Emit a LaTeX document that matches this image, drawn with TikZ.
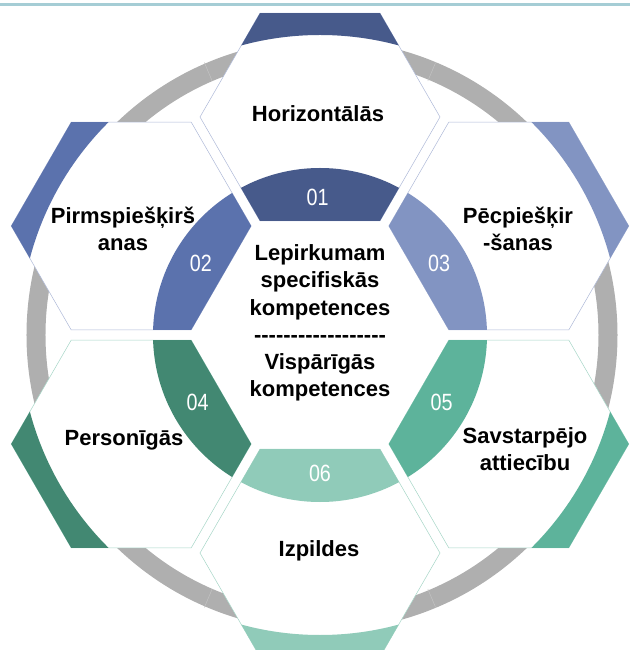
\documentclass[tikz,border=0pt]{standalone}
\usepackage{fontspec}
\setmainfont{Liberation Sans}
\newfontfamily\numfont[FakeStretch=0.84]{Liberation Sans}
\usepackage{xcolor}
\usetikzlibrary{shapes, positioning}

\definecolor{azulA}{HTML}{475A8B}
\definecolor{azulB}{HTML}{5B72AD}
\definecolor{azulC}{HTML}{8294C2}
\definecolor{verdeA}{HTML}{428872}
\definecolor{verdeB}{HTML}{5DB39B}
\definecolor{verdeC}{HTML}{90CBB9}
\definecolor{bordaAzul}{HTML}{AEB9D8}
\definecolor{bordaVerde}{HTML}{A6D6C7}
\definecolor{anel}{HTML}{AFAFAF}
\definecolor{linhaTopo}{HTML}{A5CDD5}

\begin{document}
\begin{tikzpicture}[x=1pt, y=1pt,
	hexa/.style={regular polygon, regular polygon sides=6, minimum size=240pt,
		inner sep=0pt, outer sep=0pt, fill=white, line width=0.5pt},
	rotulo/.style={font=\fontsize{22}{27.2}\selectfont\bfseries, align=center},
	numero/.style={font=\numfont\fontsize{23.5}{23.5}\selectfont, text=white}]
				\useasboundingbox (-320,-315) rectangle (310,335);
				
				%% Linha do topo
				\draw [linhaTopo, line width=3pt] (-320,330) -- (310,330);
				
				%% Anel cinza
				\draw [anel, line width=19pt] (2,0) circle (286);
				\draw [anel!75!white, line width=0.5pt] (67:276)--(67:296) (113:276)--(113:296)
				(-67:276)--(-67:296) (-113:276)--(-113:296);
				
				%% Hexagono 01
				\node [hexa, draw=bordaAzul] (h1) at (90:218) {};
				\begin{scope}
					\clip (h1.corner 1)--(h1.corner 2)--(h1.corner 3)--(h1.corner 4)--(h1.corner 5)--(h1.corner 6)--cycle;
					\fill [azulA, even odd rule] (0,0) circle (300) circle (420);
					\fill [azulA] (0,0) circle (167);
				\end{scope}
				
				%% Hexagono 02
				\node [hexa, draw=bordaAzul] (h2) at (150:218) {};
				\begin{scope}
					\clip (h2.corner 1)--(h2.corner 2)--(h2.corner 3)--(h2.corner 4)--(h2.corner 5)--(h2.corner 6)--cycle;
					\fill [azulB, even odd rule] (0,0) circle (300) circle (420);
					\fill [azulB] (0,0) circle (167);
				\end{scope}
				
				%% Hexagono 03
				\node [hexa, draw=bordaAzul] (h3) at (30:218) {};
				\begin{scope}
					\clip (h3.corner 1)--(h3.corner 2)--(h3.corner 3)--(h3.corner 4)--(h3.corner 5)--(h3.corner 6)--cycle;
					\fill [azulC, even odd rule] (0,0) circle (300) circle (420);
					\fill [azulC] (0,0) circle (167);
				\end{scope}
				
				%% Hexagono 04
				\node [hexa, draw=bordaVerde] (h4) at (210:218) {};
				\begin{scope}
					\clip (h4.corner 1)--(h4.corner 2)--(h4.corner 3)--(h4.corner 4)--(h4.corner 5)--(h4.corner 6)--cycle;
					\fill [verdeA, even odd rule] (0,0) circle (300) circle (420);
					\fill [verdeA] (0,0) circle (167);
				\end{scope}
				
				%% Hexagono 05
				\node [hexa, draw=bordaVerde] (h5) at (-30:218) {};
				\begin{scope}
					\clip (h5.corner 1)--(h5.corner 2)--(h5.corner 3)--(h5.corner 4)--(h5.corner 5)--(h5.corner 6)--cycle;
					\fill [verdeB, even odd rule] (0,0) circle (300) circle (420);
					\fill [verdeB] (0,0) circle (167);
				\end{scope}
				
				%% Hexagono 06
				\node [hexa, draw=bordaVerde] (h6) at (-90:218) {};
				\begin{scope}
					\clip (h6.corner 1)--(h6.corner 2)--(h6.corner 3)--(h6.corner 4)--(h6.corner 5)--(h6.corner 6)--cycle;
					\fill [verdeC, even odd rule] (0,0) circle (300) circle (420);
					\fill [verdeC] (0,0) circle (167);
				\end{scope}
				
				%% Numeros
				\node [numero] (n1) at (91:138) {01};
				\node [numero] (n2) at (149:139) {02};
				\node [numero] (n3) at (31:139) {03};
				\node [numero] (n4) at (209:140) {04};
				\node [numero] (n5) at (-29:139) {05};
				\node [numero] (n6) at (-90:138) {06};
				
				%% Rotulos
				\node [rotulo] (hor) at (-2,221) {Horizontālās};
				\node [rotulo] (pirms) at (-197,106) {Pirmspiešķirš\\anas};
				\node [rotulo] (pec) at (198,106) {Pēcpiešķir\\-šanas};
				\node [rotulo] (pers) at (-196,-105) {Personīgās};
				\node [rotulo] (savst) at (205,-114) {Savstarpējo\\attiecību};
				\node [rotulo] (izp) at (-1,-216) {Izpildes};
				
				%% Centro
				\node [rotulo] (centro) at (0,12) {Lepirkumam\\specifiskās\\kompetences\\
					\foreach \k in {1,...,18}{-\kern0pt}\\Vispārīgās\\kompetences};
			\end{tikzpicture}
\end{document}
